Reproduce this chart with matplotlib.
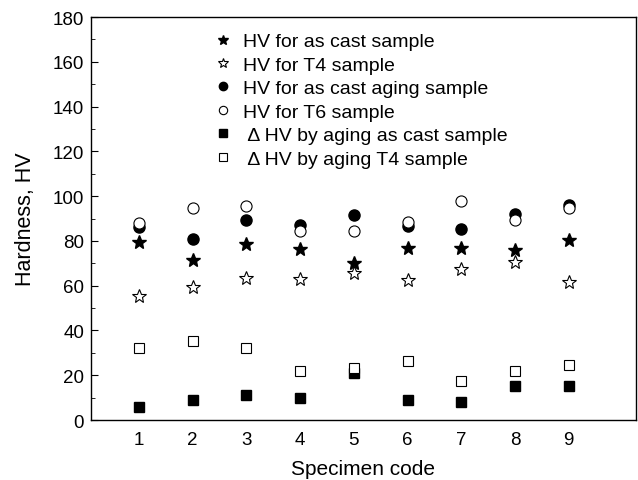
import matplotlib
matplotlib.use("Agg")
import matplotlib.pyplot as plt
from matplotlib.ticker import MultipleLocator

plt.rcParams['font.family'] = ['Liberation Sans', 'DejaVu Sans']

specimen = [1, 2, 3, 4, 5, 6, 7, 8, 9]
hv_as_cast = [79.5, 71.5, 78.5, 76.5, 70, 77, 77, 76, 80.5]
hv_t4 = [55.5, 59.5, 63.5, 63, 65.5, 62.5, 67.5, 70.5, 61.5]
hv_as_cast_aging = [86, 81, 89.5, 87, 91.5, 86.5, 85.5, 92, 96]
hv_t6 = [88, 94.5, 95.5, 84.5, 84.5, 88.5, 98, 89.5, 94.5]
dhv_as_cast = [6, 9, 11, 9.7, 21, 9, 8.2, 15.4, 15.4]
dhv_t4 = [32.3, 35.3, 32.3, 21.8, 23.3, 26.3, 17.6, 22, 24.4]

labels = ["HV for as cast sample", "HV for T4 sample", "HV for as cast aging sample",
          "HV for T6 sample", " \u0394 HV by aging as cast sample", " \u0394 HV by aging T4 sample"]

fig = plt.figure(figsize=(6.38, 4.81), dpi=100)
ax = fig.add_axes([0.1426, 0.1247, 0.8542, 0.8378])

ax.plot(specimen, hv_as_cast, ls='none', marker='*', ms=10, mfc='black', mec='black', label=labels[0])
ax.plot(specimen, hv_t4, ls='none', marker='*', ms=10, mfc='white', mec='black', mew=0.8, label=labels[1])
ax.plot(specimen, hv_as_cast_aging, ls='none', marker='o', ms=8, mfc='black', mec='black', label=labels[2])
ax.plot(specimen, hv_t6, ls='none', marker='o', ms=8, mfc='white', mec='black', mew=0.8, label=labels[3])
ax.plot(specimen, dhv_as_cast, ls='none', marker='s', ms=7, mfc='black', mec='black', label=labels[4])
ax.plot(specimen, dhv_t4, ls='none', marker='s', ms=7, mfc='white', mec='black', mew=0.8, label=labels[5])

ax.set_xlim(0.107, 10.25)
ax.set_ylim(0, 180)
ax.yaxis.set_major_locator(MultipleLocator(20))
ax.yaxis.set_minor_locator(MultipleLocator(10))
ax.set_xticks(specimen)
for s in ax.spines.values():
    s.set_linewidth(1.0)
ax.tick_params(axis='y', which='major', direction='in', length=5, labelsize=13.5, pad=5)
ax.tick_params(axis='y', which='minor', direction='in', length=3)
ax.tick_params(axis='x', which='major', length=0, labelsize=13.5, pad=8)
ax.set_xlabel("Specimen code", fontsize=15, labelpad=8)
ax.set_ylabel("Hardness, HV", fontsize=15.5, labelpad=12)

leg = ax.legend(loc='upper left', bbox_to_anchor=(0.322, 0.946), bbox_transform=fig.transFigure,
                frameon=False, fontsize=14, labelspacing=0.30, handlelength=1.0, handletextpad=0.53,
                markerscale=0.75, borderaxespad=0)

fig.savefig("out.png", dpi=100)
